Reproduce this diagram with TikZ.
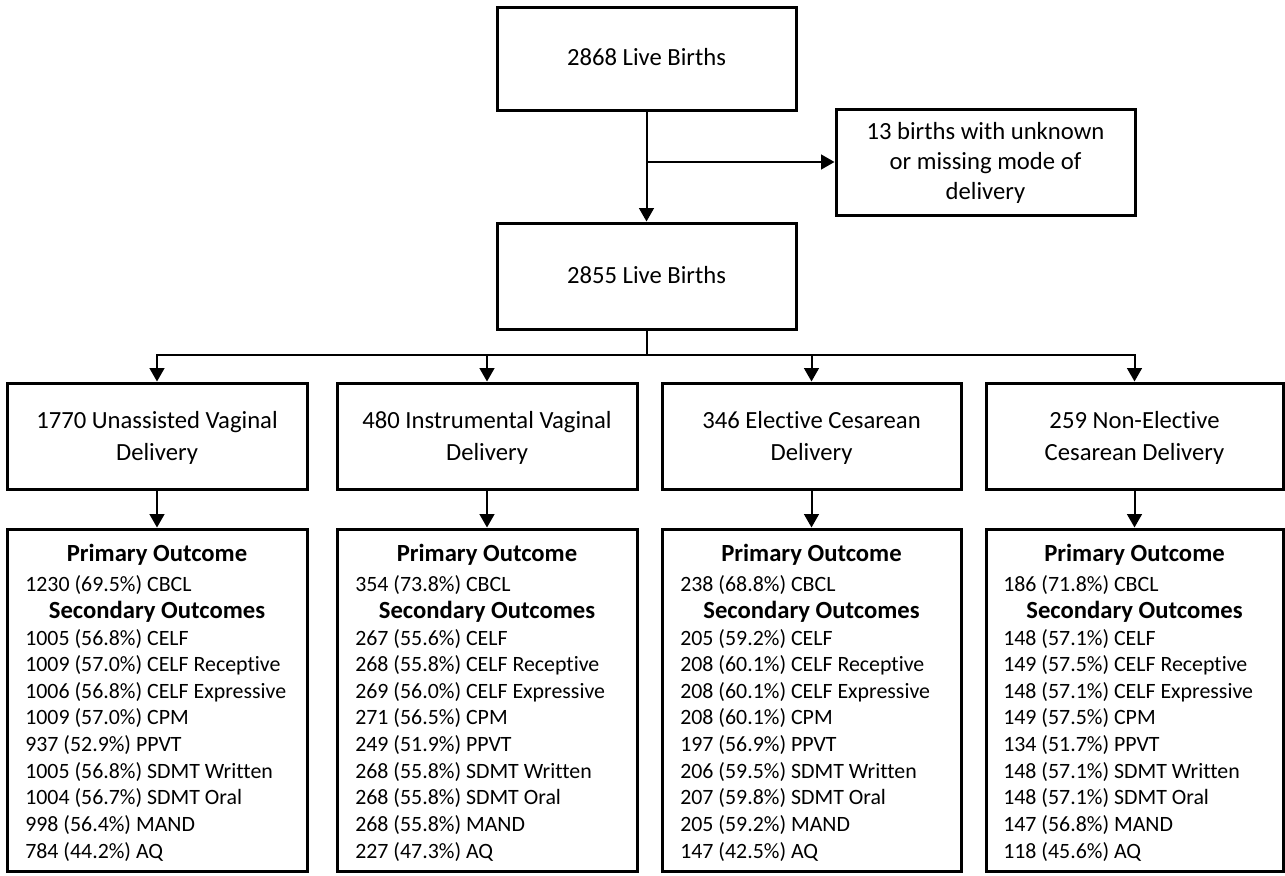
\documentclass[tikz,border=0pt]{standalone}
\usepackage{fontspec}
\setmainfont{Carlito}[Ligatures={NoCommon,NoContextual,NoRequired},Contextuals={NoAlternate}]
\usetikzlibrary{arrows.meta}
\newcommand\ti{t\kern0pt i}
\begin{document}
\begin{tikzpicture}[x=0.75pt,y=-0.75pt,
  box/.style n args={2}{draw, line width=2.25pt, minimum width=#1*0.75pt, minimum height=#2*0.75pt, inner sep=0pt},
  big/.style={inner sep=0pt, anchor=base, font=\fontsize{18.5}{22}\selectfont},
  head/.style={inner sep=0pt, anchor=base, font=\fontsize{18.5}{22}\selectfont\bfseries},
  body/.style={inner sep=0pt, anchor=base west, font=\fontsize{16.4}{20}\selectfont},
  conn/.style={line width=1.5pt, -{Triangle[width=11pt,length=10pt]}},
  plain/.style={line width=1.5pt}]
\useasboundingbox (0,0) rectangle (1285,875);

% top part
\node[box={299}{103}] (top) at (646.5,58.5) {};
\node[big] (topt) at (646.5,65) {2868 Live Births};
\node[box={299}{106}] (side) at (985.5,162) {};
\node[big] (side1) at (985.5,139.3) {13 births with unknown};
\node[big] (side2) at (985.5,169.5) {or missing mode of};
\node[big] (side3) at (985.5,199.5) {delivery};
\node[box={299}{106}] (mid) at (646.5,276) {};
\node[big] (midt) at (646.5,283.3) {2855 Live Births};

\draw[conn] (top.south) -- (mid.north);
\coordinate (j1) at (top.south |- side.west);
\draw[conn] (j1) -- (side.west);
\coordinate (bus) at (646.5,355);
\draw[plain] (mid.south) -- (bus);

% delivery boxes
\node[box={300}{106}] (d1) at (157,436) {};
\node[big] (d1a) at (157,428.3) {1770 Unassisted Vaginal};
\node[big] (d1b) at (157,460.5) {Delivery};
\node[box={300}{106}] (d2) at (487,436) {};
\node[big] (d2a) at (487,428.3) {480 Instrumental Vaginal};
\node[big] (d2b) at (487,460.5) {Delivery};
\node[box={299}{106}] (d3) at (811.5,436) {};
\node[big] (d3a) at (811.5,428.3) {346 Elec\ti ve Cesarean};
\node[big] (d3b) at (811.5,460.5) {Delivery};
\node[box={297}{106}] (d4) at (1134.5,436) {};
\node[big] (d4a) at (1134.5,428.3) {259 Non-Elec\ti ve};
\node[big] (d4b) at (1134.5,460.5) {Cesarean Delivery};

\foreach \k in {1,2,3,4}{\draw[conn] (bus) -| (d\k.north);}

% outcome boxes
\node[box={300}{342}] (o1) at (157,700) {};
\node[box={300}{342}] (o2) at (487,700) {};
\node[box={299}{342}] (o3) at (811.5,700) {};
\node[box={297}{342}] (o4) at (1134.5,700) {};
\foreach \k in {1,2,3,4}{\draw[conn] (d\k.south) -- (o\k.north);}

\foreach \k/\cx in {1/157,2/487,3/811.5,4/1134.5}{
  \node[head] (o\k-h1) at (\cx,561) {Primary Outcome};
  \node[head] (o\k-h2) at (\cx,618.4) {Secondary Outcomes};
}
\node[body] (o1-p) at (25,591.7) {1230 (69.5\%) CBCL};
\node[body] (o2-p) at (355,591.7) {354 (73.8\%) CBCL};
\node[body] (o3-p) at (680,591.7) {238 (68.8\%) CBCL};
\node[body] (o4-p) at (1003,591.7) {186 (71.8\%) CBCL};

\foreach \t [count=\i] in {1005 (56.8\%) CELF, 1009 (57.0\%) CELF Recep\ti ve, 1006 (56.8\%) CELF Expressive, 1009 (57.0\%) CPM, 937 (52.9\%) PPVT, 1005 (56.8\%) SDMT Written, 1004 (56.7\%) SDMT Oral, 998 (56.4\%) MAND, 784 (44.2\%) AQ}
  \node[body] (o1-l\i) at (25,{645+(\i-1)*26.66}) {\t};
\foreach \t [count=\i] in {267 (55.6\%) CELF, 268 (55.8\%) CELF Recep\ti ve, 269 (56.0\%) CELF Expressive, 271 (56.5\%) CPM, 249 (51.9\%) PPVT, 268 (55.8\%) SDMT Written, 268 (55.8\%) SDMT Oral, 268 (55.8\%) MAND, 227 (47.3\%) AQ}
  \node[body] (o2-l\i) at (355,{645+(\i-1)*26.66}) {\t};
\foreach \t [count=\i] in {205 (59.2\%) CELF, 208 (60.1\%) CELF Recep\ti ve, 208 (60.1\%) CELF Expressive, 208 (60.1\%) CPM, 197 (56.9\%) PPVT, 206 (59.5\%) SDMT Written, 207 (59.8\%) SDMT Oral, 205 (59.2\%) MAND, 147 (42.5\%) AQ}
  \node[body] (o3-l\i) at (680,{645+(\i-1)*26.66}) {\t};
\foreach \t [count=\i] in {148 (57.1\%) CELF, 149 (57.5\%) CELF Recep\ti ve, 148 (57.1\%) CELF Expressive, 149 (57.5\%) CPM, 134 (51.7\%) PPVT, 148 (57.1\%) SDMT Written, 148 (57.1\%) SDMT Oral, 147 (56.8\%) MAND, 118 (45.6\%) AQ}
  \node[body] (o4-l\i) at (1003,{645+(\i-1)*26.66}) {\t};
\end{tikzpicture}
\end{document}
